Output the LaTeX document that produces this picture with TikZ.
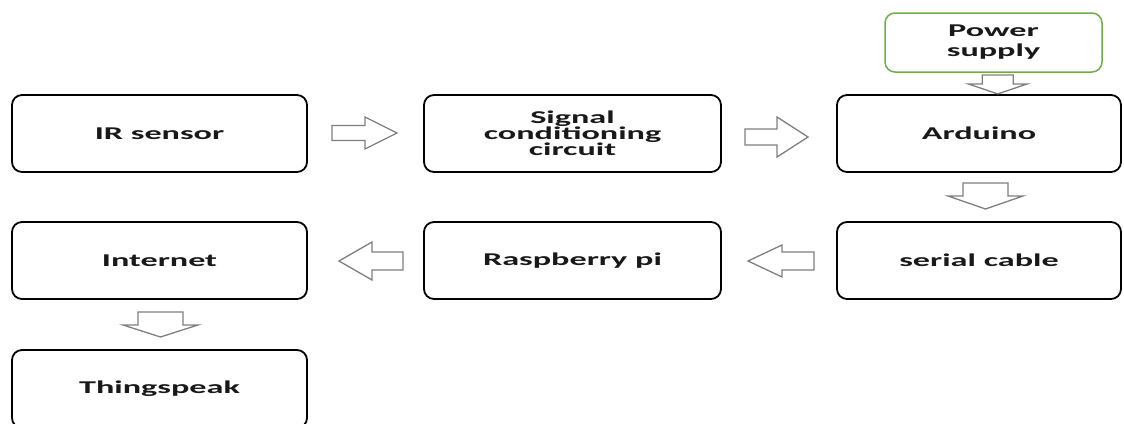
\documentclass[tikz,border=0pt]{standalone}
\usepackage{fontspec}
\newfontfamily\lbl[FakeStretch=1.9]{Carlito}
\usetikzlibrary{calc}
\definecolor{psgreen}{RGB}{112,173,71}
\definecolor{arrgray}{RGB}{127,127,127}
\begin{document}
\begin{tikzpicture}[x=1pt,y=-1pt,
  box/.style={draw=black, line width=1.8pt, rounded corners=10pt, fill=white,
    minimum width=295pt, minimum height=77pt, inner sep=0pt, align=center,
    font=\lbl\bfseries\fontsize{18pt}{16pt}\selectfont, text=black!90},
  psbox/.style={box, draw=psgreen, line width=1.5pt, minimum width=217pt, minimum height=59pt,
    font=\lbl\bfseries\fontsize{18pt}{20pt}\selectfont},
  arr/.style={draw=arrgray, line width=1.3pt, fill=white, line join=miter},
  pics/barrow/.style n args={4}{code={
    \draw[arr] (-#1/2,-#2) -- (#1/2-#4,-#2) -- (#1/2-#4,-#3) -- (#1/2,0)
      -- (#1/2-#4,#3) -- (#1/2-#4,#2) -- (-#1/2,#2) -- cycle;}}]
\useasboundingbox (0,0) rectangle (1124,423);
\clip (0,0) rectangle (1124,423);
% boxes
\node[box] (ir)  at (159.5,133.5) {IR sensor};
\node[box, minimum width=297pt] (sig) at (572.5,133.5) {Signal\\conditioning\\circuit};
\node[box, minimum width=284pt] (ard) at (979,133.5) {Arduino};
\node[psbox] (ps) at (993.5,42.5) {Power\\supply};
\node[box, minimum width=284pt] (ser) at (979,260.5) {serial cable};
\node[box, minimum width=297pt] (rasp) at (572.5,260.5) {Raspberry pi};
\node[box] (net) at (159.5,260.5) {Internet};
\node[box, minimum height=78pt] (ts) at (159.5,389) {Thingspeak};
% arrows
\coordinate (a1) at ($(ir.east)!0.5!(sig.west)+(-1,-0.5)$);
\coordinate (a2) at ($(sig.east)!0.5!(ard.west)+(-2.5,3.5)$);
\coordinate (a3) at ($(ps.south)!0.5!(ard.north)+(11.5,1)$);
\coordinate (a4) at ($(ard.south)!0.5!(ser.north)+(6.5,-1)$);
\coordinate (a5) at ($(ser.west)!0.5!(rasp.east)+(2,0.5)$);
\coordinate (a6) at ($(rasp.west)!0.5!(net.east)+(5.5,0.5)$);
\coordinate (a7) at ($(net.south)!0.5!(ts.north)+(1,0)$);
\pic at (a1) {barrow={65}{7.5}{16}{32}};
\pic at (a2) {barrow={63}{8}{20}{31}};
\pic[rotate=-90] at (a3) {barrow={19}{15.5}{29.5}{10}};
\pic[rotate=-90] at (a4) {barrow={26}{22.5}{37.5}{13}};
\pic[rotate=180] at (a5) {barrow={66}{9}{16}{34}};
\pic[rotate=180] at (a6) {barrow={64}{9}{19}{33}};
\pic[rotate=-90] at (a7) {barrow={25}{22.5}{37.5}{12}};
\end{tikzpicture}
\end{document}
